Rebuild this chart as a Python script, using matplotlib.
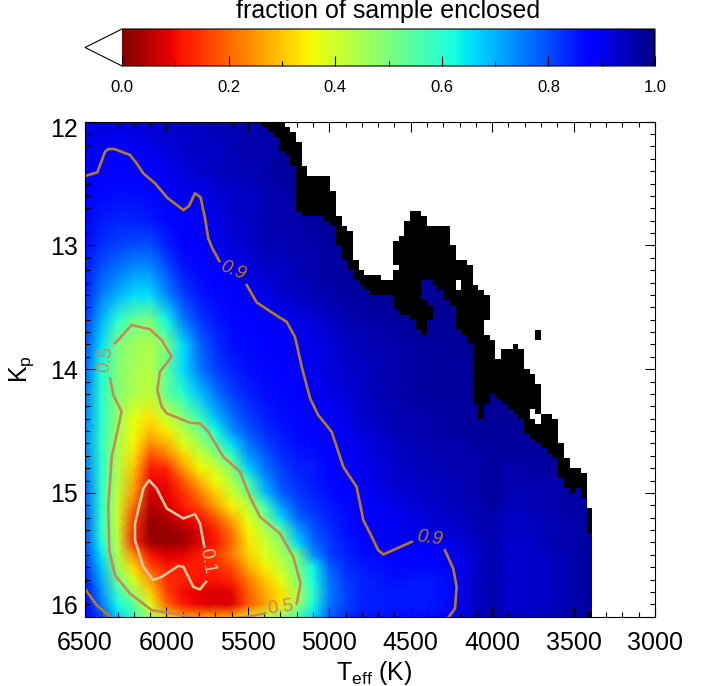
import numpy as np
import matplotlib
matplotlib.use("Agg")
import matplotlib.pyplot as plt
from matplotlib.colors import ListedColormap
from matplotlib.ticker import MultipleLocator
from matplotlib.transforms import ScaledTranslation

plt.rcParams['font.family'] = ['Liberation Sans', 'DejaVu Sans']
plt.rcParams['mathtext.fontset'] = 'custom'
plt.rcParams['mathtext.rm'] = 'Liberation Sans'
plt.rcParams['mathtext.default'] = 'regular'

# ----- heat map values (percent of sample enclosed) -----
teff_grid = [6500, 6400, 6300, 6200, 6100, 6000, 5900, 5800, 5700, 5600, 5500, 5400, 5300, 5200,
             5100, 5000, 4900, 4800, 4600, 4400, 4200, 4100, 4000, 3900, 3800, 3650, 3385]
kp_grid = [12.0, 12.2, 12.4, 12.6, 12.8, 13.0, 13.2, 13.4, 13.6, 13.8, 14.0, 14.2, 14.4,
           14.5, 14.6, 14.7, 14.8, 14.9, 15.0, 15.1, 15.2, 15.3, 15.4, 15.5, 15.6, 15.7, 15.8, 15.9, 16.0]
frac_pct = [
    [91, 92, 92, 92, 93, 93, 94, 94, 95, 95, 96, 96, 97, 97, 98, 98, 98, 98, 98, 98, 98, 98, 98, 98, 98, 98, 98],
    [90, 90, 89, 90, 91, 92, 93, 94, 94, 95, 96, 96, 97, 97, 98, 98, 98, 98, 98, 98, 98, 98, 98, 98, 98, 98, 98],
    [89, 89, 88, 88, 89, 90, 92, 93, 94, 95, 95, 96, 97, 97, 98, 98, 98, 98, 98, 98, 98, 98, 98, 98, 98, 98, 98],
    [88, 87, 86, 86, 87, 89, 91, 90, 92, 93, 94, 95, 96, 97, 97, 98, 98, 98, 98, 98, 98, 98, 98, 98, 98, 98, 98],
    [87, 85, 84, 84, 85, 87, 89, 90, 91, 93, 94, 95, 96, 96, 97, 97, 98, 98, 98, 98, 98, 98, 98, 98, 98, 98, 98],
    [86, 83, 81, 80, 80, 84, 88, 89, 90, 92, 93, 95, 95, 96, 96, 97, 97, 98, 98, 98, 98, 98, 98, 98, 98, 98, 98],
    [85, 79, 76, 73, 73, 79, 85, 87, 89, 90, 92, 93, 94, 95, 96, 97, 97, 98, 98, 98, 98, 98, 98, 98, 98, 98, 98],
    [84, 75, 70, 66, 66, 74, 81, 85, 87, 88, 90, 91, 93, 94, 95, 96, 97, 97, 98, 98, 98, 98, 98, 98, 98, 98, 98],
    [82, 70, 60, 52, 50, 63, 75, 82, 85, 87, 88, 89, 90, 91, 92, 94, 95, 96, 97, 98, 98, 98, 98, 98, 98, 98, 98],
    [80, 66, 50, 46, 44, 50, 66, 77, 83, 86, 87, 88, 89, 90, 91, 92, 94, 95, 96, 97, 98, 98, 98, 98, 98, 98, 98],
    [78, 62, 49, 45, 43, 53, 66, 75, 81, 84, 86, 87, 88, 89, 90, 92, 93, 94, 96, 97, 97, 98, 98, 98, 98, 98, 98],
    [76, 60, 49, 44, 42, 53, 60, 68, 76, 81, 84, 86, 87, 88, 90, 91, 92, 94, 96, 97, 97, 98, 98, 98, 98, 98, 98],
    [75, 60, 47, 37, 33, 40, 48, 57, 68, 76, 81, 84, 86, 87, 88, 89, 91, 93, 95, 96, 97, 97, 98, 98, 98, 98, 98],
    [74, 60, 46, 36, 29, 34, 43, 50, 62, 73, 79, 83, 85, 87, 88, 89, 90, 92, 95, 96, 97, 97, 98, 97, 97, 98, 98],
    [74, 59, 45, 35, 24, 28, 38, 45, 55, 66, 76, 81, 84, 86, 87, 88, 90, 91, 94, 96, 96, 97, 97, 97, 97, 98, 98],
    [75, 60, 44, 33, 17, 22, 31, 40, 47, 58, 72, 78, 83, 85, 86, 88, 89, 91, 94, 95, 96, 96, 97, 97, 97, 97, 98],
    [76, 60, 43, 30, 12, 13, 25, 35, 40, 49, 67, 76, 81, 84, 85, 87, 89, 90, 93, 95, 96, 96, 97, 96, 96, 97, 98],
    [77, 60, 43, 27, 10, 10, 18, 28, 36, 44, 57, 72, 80, 83, 85, 87, 88, 90, 93, 94, 95, 96, 97, 96, 96, 96, 97],
    [78, 60, 42, 25, 7, 9, 14, 22, 31, 40, 50, 68, 78, 82, 84, 86, 88, 89, 92, 94, 95, 96, 97, 95, 95, 96, 97],
    [78, 60, 41, 21, 5, 8, 12, 17, 26, 35, 42, 57, 72, 80, 83, 85, 87, 89, 91, 93, 95, 95, 97, 95, 95, 96, 97],
    [79, 60, 40, 16, 3, 4, 9, 11, 18, 28, 38, 49, 66, 77, 81, 84, 86, 88, 90, 92, 94, 95, 96, 94, 94, 95, 97],
    [79, 60, 41, 13, 2, 2, 4, 8, 13, 22, 35, 43, 53, 71, 79, 83, 86, 88, 90, 92, 93, 95, 96, 94, 94, 95, 97],
    [80, 62, 42, 13, 3, 2, 3, 8, 11, 20, 33, 40, 47, 66, 77, 82, 85, 87, 90, 90, 92, 94, 96, 93, 93, 95, 97],
    [81, 65, 43, 24, 11, 8, 9, 12, 15, 22, 31, 38, 44, 51, 73, 81, 84, 86, 88, 88, 91, 93, 96, 93, 93, 94, 97],
    [83, 68, 46, 32, 17, 12, 12, 12, 13, 17, 27, 34, 41, 50, 63, 78, 83, 85, 87, 87, 90, 93, 96, 93, 93, 94, 97],
    [85, 71, 52, 38, 25, 14, 13, 11, 11, 13, 22, 30, 37, 48, 62, 76, 82, 84, 86, 85, 90, 94, 96, 93, 93, 94, 97],
    [87, 73, 58, 46, 31, 16, 10, 9, 8, 9, 19, 27, 33, 44, 60, 75, 81, 84, 85, 85, 90, 94, 96, 93, 93, 94, 97],
    [88, 76, 62, 54, 38, 20, 12, 9, 8, 8, 18, 25, 33, 46, 62, 76, 81, 84, 85, 85, 90, 94, 96, 93, 93, 94, 97],
    [90, 80, 67, 58, 45, 32, 26, 25, 25, 26, 33, 42, 47, 56, 66, 78, 83, 85, 86, 86, 91, 95, 97, 94, 94, 95, 97],
]

# ----- mask cells on the 100 x 100 bin grid: (row, first col, end col) -----
n_bins = 100
black_runs = [
    (0, 31, 35), (1, 32, 36), (2, 33, 37), (3, 34, 37), (4, 34, 38), (5, 34, 38), (6, 35, 38), (7, 36, 38),
    (8, 36, 38), (9, 37, 39), (10, 37, 39), (11, 37, 43), (12, 37, 43), (13, 37, 43), (14, 37, 44), (15, 37, 44),
    (16, 37, 44), (17, 37, 44), (18, 38, 44), (18, 57, 59), (19, 42, 45), (19, 57, 60), (20, 43, 45), (20, 56, 60),
    (21, 44, 46), (21, 56, 64), (22, 44, 47), (22, 56, 64), (23, 44, 47), (23, 55, 64), (24, 44, 47), (24, 54, 64),
    (25, 45, 47), (25, 54, 65), (26, 45, 47), (26, 54, 65), (27, 45, 47), (27, 54, 65), (28, 46, 48), (28, 54, 67),
    (29, 46, 48), (29, 55, 68), (30, 47, 49), (30, 54, 68), (31, 47, 52), (31, 54, 68), (32, 48, 59), (32, 61, 65),
    (32, 66, 68), (33, 49, 59), (33, 62, 65), (33, 66, 69), (34, 50, 59), (34, 63, 70), (35, 54, 59), (35, 63, 71),
    (36, 54, 60), (36, 64, 71), (37, 54, 61), (37, 65, 71), (38, 55, 61), (38, 65, 71), (39, 57, 61), (39, 65, 71),
    (40, 58, 60), (40, 65, 70), (41, 58, 60), (41, 65, 70), (42, 59, 60), (42, 66, 70), (42, 79, 80), (43, 67, 71),
    (43, 79, 80), (44, 67, 72), (45, 68, 72), (45, 75, 76), (46, 68, 72), (46, 73, 77), (47, 68, 72), (47, 73, 77),
    (48, 68, 77), (49, 68, 77), (50, 68, 78), (51, 68, 79), (52, 68, 79), (53, 68, 80), (54, 68, 80), (55, 68, 71),
    (55, 72, 80), (56, 68, 71), (56, 73, 80), (57, 69, 70), (57, 74, 80), (58, 69, 70), (58, 75, 78), (58, 79, 80),
    (59, 69, 70), (59, 76, 78), (59, 80, 82), (60, 77, 79), (60, 80, 83), (61, 77, 83), (62, 77, 83), (63, 78, 83),
    (64, 79, 83), (65, 80, 84), (66, 81, 84), (67, 82, 84), (68, 83, 85), (69, 83, 85), (70, 83, 87), (71, 83, 88),
    (72, 84, 88), (73, 84, 88), (74, 85, 86), (74, 87, 88), (75, 87, 88), (78, 88, 89), (79, 88, 89), (80, 88, 89),
    (81, 88, 89), (82, 88, 89), (99, 88, 89),
]
white_runs = [
    (18, 44, 57), (19, 45, 57), (20, 45, 56), (21, 46, 56), (22, 47, 56), (23, 47, 55), (24, 47, 54), (25, 47, 54),
    (26, 47, 54), (27, 47, 54), (28, 48, 54), (29, 48, 55), (30, 49, 54), (31, 52, 54), (32, 65, 66), (33, 65, 66),
    (42, 70, 79), (43, 71, 79), (58, 78, 79), (59, 78, 80), (60, 79, 80),
    (76, 88, 100), (77, 88, 100), (83, 89, 100), (84, 89, 100), (85, 89, 100), (86, 89, 100), (87, 89, 100),
    (88, 89, 100), (89, 89, 100), (90, 89, 100), (91, 89, 100), (92, 89, 100), (93, 89, 100), (94, 89, 100),
    (95, 89, 100), (96, 89, 100), (97, 89, 100), (98, 89, 100),
]
# heat cells that sit between black runs
heat_runs = [
    (32, 59, 61), (33, 59, 62), (34, 59, 63), (35, 59, 63), (36, 60, 64), (37, 61, 65), (38, 61, 65), (39, 61, 65),
    (40, 60, 65), (41, 60, 65), (42, 60, 66), (55, 71, 72), (56, 71, 73), (57, 70, 74), (58, 70, 75), (59, 70, 76),
    (74, 86, 87),
]

# ----- contours: Teff, Kp -----
c90a_t = [6494, 6424, 6377, 6357, 6320, 6224, 6183, 6142, 6070, 5995, 5896, 5860, 5825, 5790, 5763, 5743, 5718, 5675]
c90a_k = [12.437, 12.409, 12.243, 12.221, 12.221, 12.269, 12.336, 12.417, 12.498, 12.614, 12.714, 12.679, 12.579,
          12.611, 12.781, 12.943, 13.023, 13.126]
c90b_t = [5507, 5446, 5344, 5262, 5211, 5169, 5118, 5068, 4985, 4914, 4832, 4791, 4750, 4699, 4668, 4494]
c90b_k = [13.32, 13.46, 13.549, 13.617, 13.738, 13.981, 14.236, 14.371, 14.506, 14.789, 14.951, 15.22, 15.325,
          15.463, 15.497, 15.395]
c90c_t = [4290, 4239, 4218, 4228, 4265]
c90c_k = [15.463, 15.61, 15.759, 15.934, 16.0]
c90d_t = [6494, 6428, 6346]
c90d_k = [15.786, 15.907, 16.0]

c50a_t = [6316, 6213, 6101, 6029, 5968, 6040, 6056, 6029, 5998, 5855, 5794, 5743, 5651, 5548, 5487, 5426, 5303,
          5221, 5176, 5200]
c50a_k = [13.791, 13.643, 13.678, 13.765, 13.9, 14.021, 14.169, 14.304, 14.357, 14.433, 14.438, 14.506, 14.708,
          14.829, 15.032, 15.193, 15.327, 15.517, 15.732, 15.893]
c50b_t = [5395, 5507, 5700, 5896, 6090, 6224, 6316, 6351, 6357, 6336, 6275, 6326, 6346]
c50b_k = [15.974, 16.0, 16.03, 15.988, 15.947, 15.813, 15.664, 15.463, 15.112, 14.708, 14.344, 14.209, 14.074]

c10_t = [5767, 5794, 5825, 5896, 5998, 6060, 6107, 6142, 6193, 6193, 6142, 6081, 6029, 5927, 5896, 5835, 5794, 5757]
c10_k = [15.436, 15.247, 15.171, 15.206, 15.125, 14.964, 14.897, 14.964, 15.247, 15.382, 15.597, 15.704, 15.678,
         15.589, 15.597, 15.759, 15.78, 15.718]

x_major = [6500, 6000, 5500, 5000, 4500, 4000, 3500, 3000]
y_major = [12, 13, 14, 15, 16]
cbar_ticks = [0.0, 0.2, 0.4, 0.6, 0.8, 1.0]

color_90 = '#b37a28'
color_50 = '#c48c54'
color_10 = '#e3c79a'


def main():
    width, height = 713, 686
    fig = plt.figure(figsize=(width / 100, height / 100), dpi=100)
    ax = fig.add_axes([85 / width, 1 - 616.7 / height, 570 / width, 495 / height])

    cmap = plt.get_cmap('jet_r').with_extremes(under='white')
    frac = np.array(frac_pct) / 100.0
    mesh = ax.pcolormesh(teff_grid, kp_grid, frac, shading='gouraud', cmap=cmap, vmin=0, vmax=1)

    # white and black bins on top of the shaded field
    cells = np.zeros((n_bins, n_bins))
    for row, c0, c1 in black_runs:
        cells[row, c1:] = 2
    for row, c0, c1 in black_runs:
        cells[row, c0:c1] = 1
    for row, c0, c1 in heat_runs:
        cells[row, c0:c1] = 0
    for row, c0, c1 in white_runs:
        cells[row, c0:c1] = 2
    t_edges = np.linspace(6500, 3000, n_bins + 1)
    k_edges = np.linspace(12, 16, n_bins + 1)
    ax.pcolormesh(t_edges, k_edges, np.ma.masked_equal(cells, 0), cmap=ListedColormap(['black', 'white']),
                  vmin=1, vmax=2, antialiased=False, linewidth=0)

    # contours
    for t, k in [(c90a_t, c90a_k), (c90b_t, c90b_k), (c90c_t, c90c_k), (c90d_t, c90d_k)]:
        ax.plot(t, k, color=color_90, lw=1.9)
    for t, k in [(c50a_t, c50a_k), (c50b_t, c50b_k)]:
        ax.plot(t, k, color=color_50, lw=1.9)
    ax.plot(c10_t, c10_k, color=color_10, lw=1.9)

    label_kw = dict(ha='center', va='center', fontsize=13.5)
    ax.text(5590, 13.2, '0.9', color=color_90, rotation=-22, style='italic', **label_kw)
    ax.text(4385, 15.37, '0.9', color=color_90, rotation=-8, style='italic', **label_kw)
    ax.text(6375, 13.92, '0.5', color=color_50, rotation=82, **label_kw)
    ax.text(5300, 15.93, '0.5', color=color_50, rotation=8, **label_kw)
    ax.text(5750, 15.55, '0.1', color=color_10, rotation=-80, **label_kw)

    ax.set_xlim(6500, 3000)
    ax.set_ylim(16, 12)
    ax.set_xticks(x_major)
    ax.set_yticks(y_major)
    ax.xaxis.set_minor_locator(MultipleLocator(100))
    ax.yaxis.set_minor_locator(MultipleLocator(0.1))
    ax.tick_params(which='both', direction='in', top=True, right=True, width=0.8, labelsize=18)
    ax.tick_params(which='major', length=7.5)
    ax.tick_params(which='minor', length=3.8)
    ax.tick_params(axis='x', pad=10)
    ax.tick_params(axis='y', pad=5)
    labels = ax.get_yticklabels()
    labels[0].set_va('top')
    labels[0].set_transform(labels[0].get_transform() + ScaledTranslation(0, 3 / 72, fig.dpi_scale_trans))
    labels[-1].set_va('bottom')
    labels[-1].set_transform(labels[-1].get_transform() + ScaledTranslation(0, -1.5 / 72, fig.dpi_scale_trans))
    ax.set_xlabel(r'T$_{eff}$ (K)', fontsize=18, labelpad=3, x=0.508)
    ax.set_ylabel(r'K$_{p}$', fontsize=18, labelpad=10)

    # colour bar, the axes includes the white arrow
    cax = fig.add_axes([85 / width, 1 - 66 / height, 570 / width, 37 / height])
    cbar = fig.colorbar(mesh, cax=cax, orientation='horizontal', extend='min', extendfrac=37 / 533)
    cbar.set_ticks(cbar_ticks)
    cbar.ax.set_xticklabels(['%.1f' % v for v in cbar_ticks])
    cbar.ax.xaxis.set_minor_locator(MultipleLocator(0.1))
    cbar.ax.tick_params(which='both', direction='in', width=0.8, labelsize=12, pad=10, bottom=True)
    cbar.ax.tick_params(which='major', length=7)
    cbar.ax.tick_params(which='minor', length=3.5)
    cbar.outline.set_linewidth(0.8)
    fig.text(388 / width, 1 - 11 / height, 'fraction of sample enclosed', ha='center', va='center', fontsize=18)

    fig.savefig('out.png', dpi=100)


if __name__ == "__main__":
    main()
